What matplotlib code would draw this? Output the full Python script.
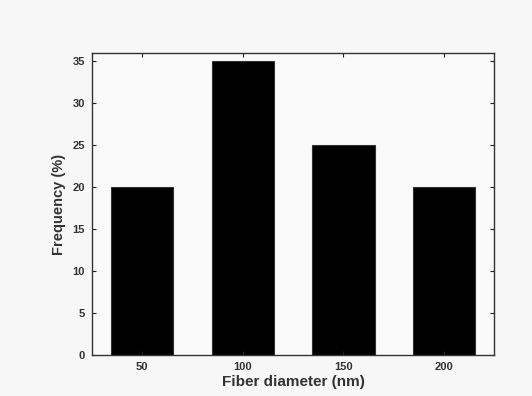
import matplotlib
matplotlib.use("Agg")
import matplotlib.pyplot as plt

categories = [50, 100, 150, 200]
frequency = [20, 35, 25, 20]
yticks = [0, 5, 10, 15, 20, 25, 30, 35]

plt.rcParams['font.family'] = ['Liberation Sans', 'DejaVu Sans']
bg = "#f7f7f7"
fig = plt.figure(figsize=(5.32, 3.96), dpi=100, facecolor=bg)
ax = fig.add_axes([0.173, 0.1035, 0.756, 0.7625])
ax.set_facecolor("#fafafa")
ax.bar(categories, frequency, width=31, color="black", edgecolor="#333333", linewidth=0.8)
ax.set_xlim(25, 225)
ax.set_ylim(0, 36)
ax.set_xticks(categories)
ax.set_yticks(yticks)
ax.tick_params(direction="in", length=3, width=0.8, top=True, right=True,
               labelsize=8, colors="#222222", pad=5)
for lab in ax.get_xticklabels() + ax.get_yticklabels():
    lab.set_fontweight("bold")
    lab.set_color("#333333")
for s in ax.spines.values():
    s.set_linewidth(1.0)
    s.set_color("#333333")
ax.set_xlabel("Fiber diameter (nm)", fontsize=11, fontweight="bold", color="#333333", labelpad=2)
ax.set_ylabel("Frequency (%)", fontsize=10.5, fontweight="bold", color="#333333", labelpad=5)
fig.savefig("out.png", dpi=100, facecolor=bg)
